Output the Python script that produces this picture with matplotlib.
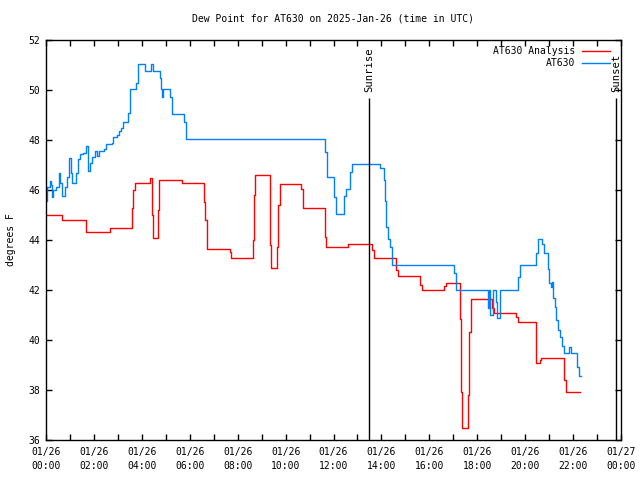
import datetime as dt
import matplotlib
matplotlib.use('Agg')
import matplotlib.pyplot as plt
import matplotlib.dates as mdates

plt.rcParams['font.family'] = ['DejaVu Sans Mono']
plt.rcParams['font.size'] = 7

day0 = dt.datetime(2025, 1, 26)

# AT630 Analysis (hours after 00 UTC, deg F) - step series
ana_hours = [0.0, 0.66, 1.67, 2.67, 3.58, 3.62, 3.70, 4.34, 4.42, 4.48, 4.66, 4.72,
             5.66, 6.60, 6.65, 6.70, 6.74, 7.69, 7.74, 8.66, 8.70, 8.74,
             9.33, 9.37, 9.41, 9.66, 9.70, 9.76, 10.66, 10.74, 11.65, 11.70,
             12.62, 13.62, 13.70, 14.62, 14.70, 15.62, 15.70, 16.62, 16.70,
             17.28, 17.31, 17.35, 17.63, 17.66, 17.72, 18.62, 18.69,
             19.62, 19.70, 20.45, 20.60, 20.67, 21.62, 21.70, 22.30]
ana_vals = [45.0, 44.8, 44.32, 44.47, 45.3, 46.0, 46.3, 46.47, 45.0, 44.07, 45.2, 46.39,
            46.3, 45.5, 44.8, 44.0, 43.63, 43.5, 43.3, 44.0, 45.8, 46.59,
            45.63, 43.8, 42.88, 43.73, 45.4, 46.23, 46.03, 45.27, 44.1, 43.71,
            43.85, 43.6, 43.3, 42.8, 42.56, 42.2, 42.0, 42.15, 42.27,
            40.83, 37.93, 36.47, 37.8, 40.33, 41.63, 41.3, 41.09,
            40.9, 40.72, 39.09, 39.2, 39.28, 38.4, 37.93, 37.93]

# AT630 observations
obs_hours = [0.0, 0.06, 0.15, 0.19, 0.24, 0.31, 0.43, 0.53, 0.59, 0.68, 0.78, 0.87,
             0.98, 1.06, 1.09, 1.26, 1.33, 1.40, 1.53, 1.66, 1.74, 1.84, 1.93,
             2.06, 2.12, 2.20, 2.43, 2.51, 2.74, 2.81, 2.98, 3.06, 3.13, 3.23,
             3.41, 3.51, 3.76, 3.83, 4.15, 4.38, 4.45, 4.76, 4.80, 4.84, 4.90,
             5.19, 5.24, 5.76, 5.84, 11.66, 11.74, 12.03, 12.12, 12.45, 12.53,
             12.70, 12.78, 13.95, 14.09, 14.17, 14.20, 14.26, 14.37, 14.45,
             17.03, 17.11, 18.45, 18.50, 18.55, 18.65, 18.78, 18.84, 18.95,
             19.70, 19.78, 20.45, 20.53, 20.72, 20.78, 20.95, 21.01, 21.06,
             21.12, 21.17, 21.23, 21.28, 21.37, 21.45, 21.53, 21.62, 21.85,
             21.93, 22.18, 22.23, 22.31]
obs_vals = [45.57, 46.13, 46.37, 46.2, 45.73, 46.0, 46.1, 46.67, 46.29, 45.76, 46.13, 46.53,
            47.27, 46.67, 46.29, 46.67, 47.23, 47.44, 47.49, 47.76, 46.77, 47.07, 47.31,
            47.57, 47.36, 47.57, 47.63, 47.84, 47.87, 48.13, 48.2, 48.37, 48.49, 48.73,
            49.07, 50.03, 50.27, 51.03, 50.76, 51.03, 50.76, 50.49, 50.03, 49.73, 50.03,
            49.73, 49.03, 48.73, 48.04, 47.53, 46.53, 45.73, 45.04, 45.77, 46.03,
            46.73, 47.04, 46.87, 46.4, 45.57, 44.51, 44.04, 43.73, 43.0,
            42.67, 42.0, 41.27, 42.0, 41.0, 42.0, 41.5, 40.87, 42.0,
            42.5, 43.0, 43.47, 44.03, 43.84, 43.49, 42.83, 42.27, 42.13,
            42.33, 41.67, 41.31, 40.8, 40.4, 40.11, 39.76, 39.49, 39.73,
            39.49, 38.93, 38.56, 38.56]

sun_hours = [13.49, 23.80]
sun_labels = ['Sunrise', 'Sunset']


def to_time(hours):
    return [day0 + dt.timedelta(hours=h) for h in hours]


fig = plt.figure(figsize=(6.4, 4.8), dpi=100)
ax = fig.add_axes([46 / 640, 40 / 480, 575 / 640, 400 / 480])

ax.plot(to_time(ana_hours), ana_vals, drawstyle='steps-post', color='#ff0000',
        lw=1.0, label='AT630 Analysis')
ax.plot(to_time(obs_hours), obs_vals, drawstyle='steps-post', color='#0080ff',
        lw=1.0, label='AT630')

for h, lab in zip(sun_hours, sun_labels):
    t = day0 + dt.timedelta(hours=h)
    ax.vlines(t, 36, 49.68, color='black', lw=1.0)
    ax.text(t, 49.92, lab, rotation=90, ha='center', va='bottom', fontsize=7.6)

ax.set_xlim(day0, day0 + dt.timedelta(hours=24))
ax.set_ylim(36, 52)
ax.set_yticks(range(36, 53, 2))
ax.xaxis.set_major_locator(mdates.HourLocator(interval=2))
ax.xaxis.set_minor_locator(mdates.HourLocator(interval=1))
ax.xaxis.set_major_formatter(mdates.DateFormatter('%m/%d\n%H:%M'))
ax.tick_params(direction='in', length=4, width=1, top=True, right=True, pad=4)
ax.tick_params(axis='x', pad=5)
ax.tick_params(which='minor', direction='in', length=4, width=1, top=True)
for lbl in ax.get_xticklabels():
    lbl.set_linespacing(1.45)
for s in ax.spines.values():
    s.set_linewidth(1.0)

ax.set_ylabel('degrees F', labelpad=9)
ax.set_title('Dew Point for AT630 on 2025-Jan-26 (time in UTC)', fontsize=7, pad=13)

ax.legend(loc='upper right', bbox_to_anchor=(0.981, 0.985), frameon=False,
          markerfirst=False, borderpad=0, borderaxespad=0, handlelength=2.9,
          handletextpad=0.7, labelspacing=0.25)

fig.savefig('out.png', dpi=100)
